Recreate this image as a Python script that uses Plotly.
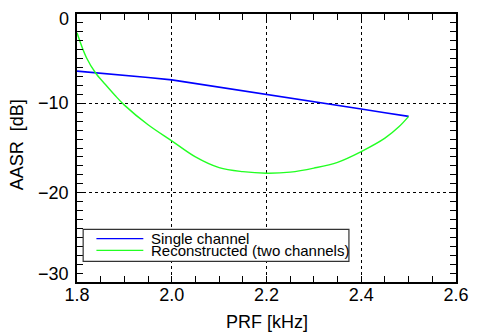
import plotly.graph_objects as go

# PRF [kHz]
prf_single = [1.80, 1.85, 1.90, 1.95, 2.00, 2.05, 2.10, 2.15, 2.20, 2.25, 2.30, 2.35, 2.40, 2.45, 2.50]
aasr_single = [-6.4, -6.62, -6.88, -7.1, -7.37, -7.77, -8.17, -8.56, -8.96, -9.4, -9.82, -10.22, -10.64, -11.05, -11.46]

prf_recon = [1.80, 1.82, 1.84, 1.86, 1.88, 1.90, 1.95, 2.00, 2.05, 2.10, 2.15, 2.20, 2.25, 2.30, 2.35, 2.40, 2.45, 2.48, 2.50]
aasr_recon = [-2.1, -4.9, -6.66, -7.9, -9.1, -10.2, -12.4, -14.2, -16.0, -17.2, -17.65, -17.82, -17.7, -17.25, -16.6, -15.4, -13.9, -12.6, -11.46]

x_range = [1.8, 2.6]
y_range = [-30, 0]
y_ticks = [0, -10, -20, -30]
legend_names = ["Single channel", "Reconstructed (two channels)"]
colors = ["#0000ff", "#22ff22"]

FONT = "Liberation Sans, Arial, sans-serif"

fig = go.Figure()
fig.add_trace(go.Scatter(x=prf_single, y=aasr_single, mode="lines",
                         line=dict(color=colors[0], width=1.6), showlegend=False))
fig.add_trace(go.Scatter(x=prf_recon, y=aasr_recon, mode="lines", line_shape="spline",
                         line=dict(color=colors[1], width=1.4), showlegend=False))

# main axes: dotted grid + x tick labels
fig.update_layout(
    xaxis=dict(range=x_range, tickmode="linear", tick0=1.8, dtick=0.2, tickformat=".1f",
               showline=False, ticks="", showgrid=True, gridcolor="black", gridwidth=1,
               griddash="dot", zeroline=False,
               tickfont=dict(family=FONT, size=18, color="black")),
    yaxis=dict(range=y_range, tickmode="array", tickvals=y_ticks, showticklabels=False,
               showline=False, ticks="", showgrid=True, gridcolor="black", gridwidth=1,
               griddash="dot", zeroline=False),
    # overlay axes: frame + inside major/minor ticks
    xaxis2=dict(overlaying="x", anchor="y", side="bottom", range=x_range,
                showline=True, linecolor="black", linewidth=2, mirror="allticks",
                ticks="inside", ticklen=6, tickcolor="black", tickwidth=1, dtick=0.2, tick0=1.8,
                minor=dict(dtick=0.05, ticks="inside", ticklen=6, tickcolor="black"),
                showticklabels=False, showgrid=False, zeroline=False),
    yaxis2=dict(overlaying="y", anchor="x", side="left", range=y_range,
                showline=True, linecolor="black", linewidth=2, mirror="allticks",
                ticks="inside", ticklen=6, tickcolor="black", tickwidth=1, dtick=10, tick0=0,
                minor=dict(dtick=1, ticks="inside", ticklen=6, tickcolor="black"),
                showticklabels=False, showgrid=False, zeroline=False),
)
# invisible anchor trace so the overlay subplot is rendered
fig.add_trace(go.Scatter(x=[x_range[0]], y=[y_range[0]], xaxis="x2", yaxis="y2",
                         mode="markers", marker=dict(opacity=0), showlegend=False,
                         hoverinfo="skip"))

# y tick labels (IDL-style: end labels nudged inside the axis span)
for v in y_ticks:
    shift = -5 if v == y_range[1] else (8 if v == y_range[0] else 0)
    fig.add_annotation(x=0, xref="paper", y=v, yref="y", xshift=-6, yshift=shift,
                       text=(f"\u2212{abs(v)}" if v < 0 else str(v)), showarrow=False,
                       xanchor="right", yanchor="middle",
                       font=dict(family=FONT, size=18, color="black"))

# legend box drawn manually (tight IDL-like spacing)
fig.add_shape(type="rect", xref="x", yref="y", x0=1.813, x1=2.374, y0=-27.7, y1=-24.1,
              line=dict(color="#333333", width=1.2), fillcolor="white", layer="above")
leg_y = [-25.15, -26.45]
for name, c, yy in zip(legend_names, colors, leg_y):
    fig.add_shape(type="line", xref="x", yref="y", x0=1.841, x1=1.940, y0=yy, y1=yy,
                  line=dict(color=c, width=1.3), layer="above")
    fig.add_annotation(x=1.952, y=yy, xref="x", yref="y", text=name, showarrow=False,
                       xanchor="left", yanchor="middle",
                       font=dict(family=FONT, size=15, color="black"))

# axis titles
fig.add_annotation(text="PRF [kHz]", xref="paper", yref="paper", x=0.5, y=-0.149,
                   xanchor="center", yanchor="middle", showarrow=False,
                   font=dict(family=FONT, size=18, color="black"))
fig.add_annotation(text="AASR\u00a0\u00a0[dB]", xref="paper", yref="paper", x=-0.159, y=0.513,
                   xanchor="center", yanchor="middle", textangle=-90, showarrow=False,
                   font=dict(family=FONT, size=18, color="black"))

fig.update_layout(width=481, height=333, margin=dict(l=77, r=15, t=13, b=51),
                  paper_bgcolor="white", plot_bgcolor="white")

fig.write_html("out.html")
